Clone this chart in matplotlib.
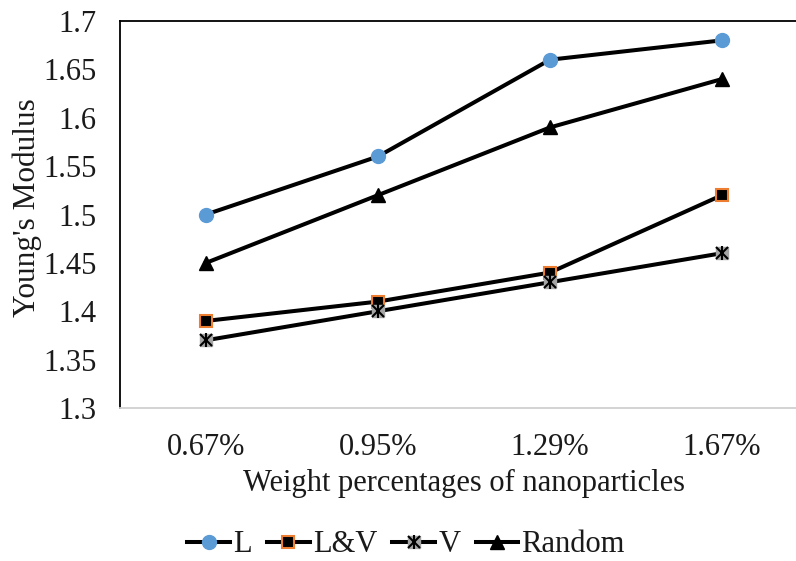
import matplotlib
matplotlib.use("Agg")
import matplotlib.pyplot as plt
from matplotlib.lines import Line2D
from matplotlib.legend_handler import HandlerTuple

categories = ["0.67%", "0.95%", "1.29%", "1.67%"]
L = [1.50, 1.56, 1.66, 1.68]
LV = [1.39, 1.41, 1.44, 1.52]
V = [1.37, 1.40, 1.43, 1.46]
Random = [1.45, 1.52, 1.59, 1.64]
yticks = [1.3, 1.35, 1.4, 1.45, 1.5, 1.55, 1.6, 1.65, 1.7]
ytick_labels = ["1.3", "1.35", "1.4", "1.45", "1.5", "1.55", "1.6", "1.65", "1.7"]

plt.rcParams["font.family"] = ["Liberation Serif", "DejaVu Serif"]

fig = plt.figure(figsize=(7.96, 5.61), dpi=100)
W, H = 796, 561
left, right, top, bottom = 120, 808, 21, 408
ax = fig.add_axes([left / W, 1 - bottom / H, (right - left) / W, (bottom - top) / H])

x = list(range(len(categories)))
lw = 2.9
fs = 22

ax.plot(x, L, color="black", lw=lw, marker="o", ms=10,
        mfc="#5B9BD5", mec="#5B9BD5", zorder=3)
ax.plot(x, Random, color="black", lw=lw, marker="^", ms=10,
        mfc="black", mec="black", zorder=3)
ax.plot(x, LV, color="black", lw=lw, marker="s", ms=8.5,
        mfc="black", mec="#ED7D31", mew=1.5, zorder=3)
ax.plot(x, V, color="black", lw=lw, marker="s", ms=9,
        mfc="#A5A5A5", mec="#A5A5A5", zorder=3)
ax.plot(x, V, ls="none", marker="x", ms=8.5, mec="black", mew=1.5, zorder=4)
ax.plot(x, V, ls="none", marker="|", ms=9.5, mec="black", mew=1.5, zorder=4)

ax.set_xlim(-0.5, len(categories) - 0.5)
ax.set_ylim(1.3, 1.7)
ax.set_yticks(yticks)
ax.set_yticklabels(ytick_labels)
ax.set_xticks(x)
ax.set_xticklabels(categories)
ax.tick_params(axis="both", length=0, labelsize=fs, colors="#1a1a1a")
ax.tick_params(axis="y", pad=17)
ax.tick_params(axis="x", pad=18)

ax.spines["left"].set_color("black")
ax.spines["left"].set_linewidth(1.3)
ax.spines["top"].set_color("black")
ax.spines["top"].set_linewidth(1.3)
ax.spines["bottom"].set_color("#D0D0D0")
ax.spines["bottom"].set_linewidth(1.3)
ax.spines["right"].set_visible(False)

ax.set_xlabel("Weight percentages of nanoparticles", fontsize=fs, labelpad=5, color="#1a1a1a")
ax.set_ylabel("Young's Modulus", fontsize=22.5, labelpad=1, color="#1a1a1a")
ax.yaxis.label.set_y(0.518)

h_L = Line2D([], [], color="black", lw=lw, marker="o", ms=10, mfc="#5B9BD5", mec="#5B9BD5")
h_LV = Line2D([], [], color="black", lw=lw, marker="s", ms=8.5, mfc="black", mec="#ED7D31", mew=1.5)
h_V = (Line2D([], [], color="black", lw=lw, marker="s", ms=9, mfc="#A5A5A5", mec="#A5A5A5"),
       Line2D([], [], ls="none", marker="x", ms=8.5, mec="black", mew=1.5),
       Line2D([], [], ls="none", marker="|", ms=9.5, mec="black", mew=1.5))
h_R = Line2D([], [], color="black", lw=lw, marker="^", ms=10, mfc="black", mec="black")

leg = fig.legend([h_L, h_LV, h_V, h_R], ["L", "L&V", "V", "Random"],
                 handler_map={tuple: HandlerTuple(ndivide=1)},
                 loc="center", bbox_to_anchor=(406 / W, 1 - 545 / H), ncol=4,
                 frameon=False, fontsize=fs, handlelength=1.4, columnspacing=0.5,
                 handletextpad=0.1)
for t in leg.get_texts():
    t.set_color("#1a1a1a")

fig.savefig("out.png", dpi=100)
